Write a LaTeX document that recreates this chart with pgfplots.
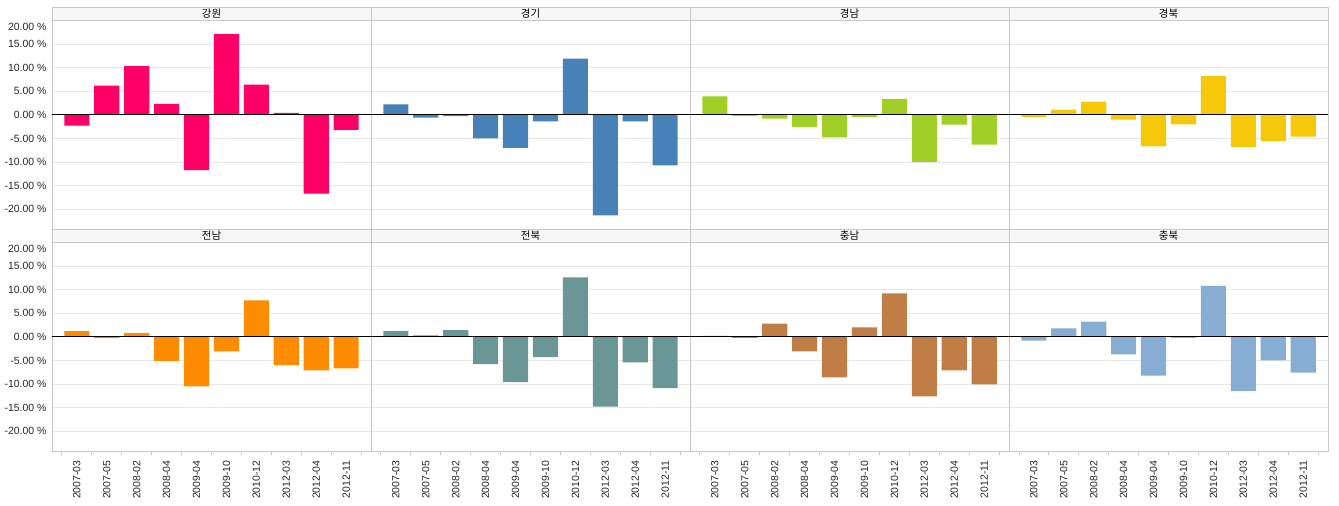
\documentclass[border=0pt]{standalone}
\usepackage{fontspec}
\setmainfont{Liberation Sans}
\newfontfamily\kr{Noto Sans CJK KR}
\usepackage{pgfplots}
\usepackage{pgfplotstable}
\pgfplotsset{compat=1.18}

\definecolor{cGW}{RGB}{255,0,102}
\definecolor{cGG}{RGB}{70,130,184}
\definecolor{cGN}{RGB}{162,207,38}
\definecolor{cGB}{RGB}{245,200,10}
\definecolor{cJN}{RGB}{255,140,0}
\definecolor{cJB}{RGB}{106,150,150}
\definecolor{cCN}{RGB}{192,126,70}
\definecolor{cCB}{RGB}{135,173,211}
\definecolor{frame}{RGB}{200,200,200}
\definecolor{gridc}{RGB}{232,232,232}

% change rate per region (%), one row per period
\pgfplotstableread{
idx  gw     gg     gn     gb    jn     jb     cn     cb
0   -2.3    2.2    3.9   -0.5   1.2    1.2    0.2   -0.8
1    6.2   -0.6   -0.3    1.1  -0.3    0.3   -0.2    1.8
2   10.3   -0.3   -0.8    2.8   0.8    1.4    2.8    3.2
3    2.3   -5.0   -2.6   -1.0  -5.1   -5.8   -3.1   -3.7
4  -11.7   -7.0   -4.8   -6.7 -10.5   -9.6   -8.6   -8.2
5   17.1   -1.4   -0.5   -2.0  -3.1   -4.3    2.0   -0.2
6    6.4   11.9    3.4    8.2   7.7   12.6    9.2   10.8
7    0.4  -21.3  -10.0   -6.8  -6.0  -14.8  -12.6  -11.5
8  -16.7   -1.4   -2.1   -5.6  -7.1   -5.4   -7.1   -5.0
9   -3.2  -10.7   -6.3   -4.6  -6.7  -10.9  -10.1   -7.6
}\data

\pgfplotsset{
  panel/.style={
    at={#1}, anchor=south west, scale only axis,
    width=319bp, height=209bp,
    xmin=-0.83, xmax=9.83, ymin=-24.2, ymax=20.1,
    ytick={-20,-15,...,20}, yticklabels={},
    xtick={0,...,9}, xticklabels={},
    major tick length=0pt,
    ymajorgrids, grid style={gridc, line width=0.8bp},
    axis line style={frame, line width=0.8bp},
    ybar, bar width=0.84,
    every axis plot/.append style={draw=none, bar shift=0pt},
  },
  leftcol/.style={
    ytick={-20,-15,...,15},
    yticklabels={-20.00 \%,-15.00 \%,-10.00 \%,-5.00 \%,0.00 \%,5.00 \%,10.00 \%,15.00 \%},
    extra y ticks={20}, extra y tick labels={20.00 \%},
    extra y tick style={yticklabel style={yshift=-6bp}, grid=none},
    yticklabel style={font=\fontsize{10.5}{12}\selectfont, text=black!85, xshift=-2bp},
  },
  bottomrow/.style={
    xticklabels={2007-03,2007-05,2008-02,2008-04,2009-04,2009-10,2010-12,2012-03,2012-04,2012-11},
    xticklabel style={rotate=90, anchor=east, font=\fontsize{10.5}{12}\selectfont, text=black!85, xshift=-6bp},
    minor xtick={-0.5,0.5,...,9.5}, xtick pos=bottom, tick align=outside,
    minor tick length=4bp, minor tick style={frame, line width=0.8bp},
  },
}

\newcommand{\zeroline}{\draw[black, line width=1.1bp] (axis cs:-0.83,0) -- (axis cs:9.83,0);}

\begin{document}
\begin{tikzpicture}
% top row
\begin{axis}[panel={(52bp,277bp)}, leftcol]
\addplot[fill=cGW] table[x=idx, y=gw] {\data};
\zeroline
\end{axis}
\begin{axis}[panel={(371bp,277bp)}]
\addplot[fill=cGG] table[x=idx, y=gg] {\data};
\zeroline
\end{axis}
\begin{axis}[panel={(690bp,277bp)}]
\addplot[fill=cGN] table[x=idx, y=gn] {\data};
\zeroline
\end{axis}
\begin{axis}[panel={(1009bp,277bp)}]
\addplot[fill=cGB] table[x=idx, y=gb] {\data};
\zeroline
\end{axis}

% bottom row
\begin{axis}[panel={(52bp,55bp)}, leftcol, bottomrow]
\addplot[fill=cJN] table[x=idx, y=jn] {\data};
\zeroline
\end{axis}
\begin{axis}[panel={(371bp,55bp)}, bottomrow]
\addplot[fill=cJB] table[x=idx, y=jb] {\data};
\zeroline
\end{axis}
\begin{axis}[panel={(690bp,55bp)}, bottomrow]
\addplot[fill=cCN] table[x=idx, y=cn] {\data};
\zeroline
\end{axis}
\begin{axis}[panel={(1009bp,55bp)}, bottomrow]
\addplot[fill=cCB] table[x=idx, y=cb] {\data};
\zeroline
\end{axis}

\begin{scope}[x=1bp,y=1bp]
\path[use as bounding box] (0,0) rectangle (1339,506);
% header bands
\foreach \px/\name in {52/강원,371/경기,690/경남,1009/경북}{
  \draw[frame, fill=black!3, line width=0.8bp] (\px,485.7) rectangle (\px+319,498.7);
  \node[font=\kr\fontsize{10.5}{12}\selectfont] at (\px+159.5,492.2) {\name};
}
\foreach \px/\name in {52/전남,371/전북,690/충남,1009/충북}{
  \draw[frame, fill=black!3, line width=0.8bp] (\px,264) rectangle (\px+319,277);
  \node[font=\kr\fontsize{10.5}{12}\selectfont] at (\px+159.5,270.5) {\name};
}
\end{scope}
\end{tikzpicture}
\end{document}
